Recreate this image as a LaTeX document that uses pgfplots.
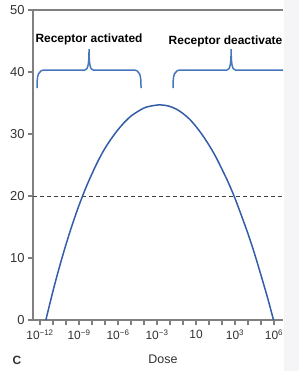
\documentclass[border=0pt]{standalone}
\usepackage{fontspec}
\setmainfont{Liberation Sans}
\usepackage{pgfplots}
\pgfplotsset{compat=1.18}
\definecolor{curveblue}{RGB}{52,93,168}
\definecolor{brblue}{RGB}{70,118,188}
\definecolor{axgray}{RGB}{128,128,128}
\definecolor{lblgray}{RGB}{50,50,50}
\definecolor{stripgray}{RGB}{245,245,247}
\begin{document}
\begin{tikzpicture}
\begin{axis}[
  at={(0,0)}, anchor=south west,
  scale only axis, width=250bp, height=310bp,
  xmin=-0.54, xmax=18.69, ymin=0, ymax=50,
  axis x line*=box, axis y line*=left,
  xtick pos=lower, ytick pos=left,
  tick align=outside,
  major tick length=5bp, minor tick length=5bp,
  tick style={axgray, line width=1.3bp},
  minor tick style={axgray, line width=1.3bp},
  axis line style={axgray, line width=1.5bp},
  ytick={0,10,...,50},
  xtick={0,3,...,18},
  minor xtick={1,2,4,5,7,8,10,11,13,14,16,17},
  xticklabels={10\textsuperscript{−12},10\textsuperscript{−9},10\textsuperscript{−6},10\textsuperscript{−3},10,10\textsuperscript{3},10\textsuperscript{6}},
  /pgf/number format/assume math mode=true,
  yticklabel style={font=\fontsize{13}{15}\selectfont, text=lblgray},
  xticklabel style={font=\fontsize{12}{14}\selectfont, text=lblgray, yshift=-1.5bp},
  clip=false,
]
\addplot[black!75, line width=0.9bp, dash pattern=on 4bp off 3bp] coordinates {(-0.54,20) (18.69,20)};
\addplot[curveblue, line width=1.5bp, smooth] coordinates {
(0.45,0) (1.0,4.7) (1.5,8.6) (2.0,12.2) (2.5,15.5) (3.0,18.5) (3.5,21.2) (4.0,23.6) (4.5,25.8) (5.0,27.7) (5.5,29.3) (6.0,30.7) (6.5,31.9) (7.0,32.9) (7.5,33.6) (8.0,34.2) (8.5,34.5) (9.23,34.7)
(9.9,34.5) (10.5,34.0) (11.0,33.3) (11.5,32.4) (12.0,31.2) (12.5,29.8) (13.0,28.2) (13.5,26.4) (14.0,24.3) (14.5,22.1) (15.0,19.6) (15.5,16.8) (16.0,13.9) (16.5,10.7) (17.0,7.2) (17.5,3.6) (17.96,0)
};
\draw[brblue, line width=1.5bp] (axis cs:-0.23,37.4) .. controls (axis cs:-0.23,39.6) and (axis cs:-0.15,40.32) .. (axis cs:0.4,40.32) -- (axis cs:3.45,40.32) .. controls (axis cs:3.7,40.32) and (axis cs:3.77,41.5) .. (axis cs:3.77,43.7) .. controls (axis cs:3.77,41.5) and (axis cs:3.84,40.32) .. (axis cs:4.09,40.32) -- (axis cs:7.14,40.32) .. controls (axis cs:7.69,40.32) and (axis cs:7.77,39.6) .. (axis cs:7.77,37.4);
\draw[brblue, line width=1.5bp] (axis cs:10.23,37.4) .. controls (axis cs:10.23,39.6) and (axis cs:10.31,40.32) .. (axis cs:10.86,40.32) -- (axis cs:14.38,40.32) .. controls (axis cs:14.63,40.32) and (axis cs:14.7,41.5) .. (axis cs:14.7,43.7) .. controls (axis cs:14.7,41.5) and (axis cs:14.77,40.32) .. (axis cs:15.02,40.32) -- (axis cs:18.69,40.32);
\node[font=\fontsize{12}{14}\selectfont\bfseries, anchor=center] at (axis cs:3.77,45.2) {Receptor activated};
\node[font=\fontsize{12}{14}\selectfont\bfseries, anchor=center] at (axis cs:14.27,45.0) {Receptor deactivate};
\end{axis}
\fill[stripgray] (251bp,-51bp) rectangle (266bp,320bp);
\node[font=\fontsize{12}{14}\selectfont\bfseries, text=black!80] at (-16bp,-40bp) {C};
\node[font=\fontsize{12.5}{14}\selectfont, text=lblgray] at (130bp,-39bp) {Dose};
\pgfresetboundingbox
\path (-33bp,-51bp) rectangle (266bp,320bp);
\end{tikzpicture}
\end{document}
